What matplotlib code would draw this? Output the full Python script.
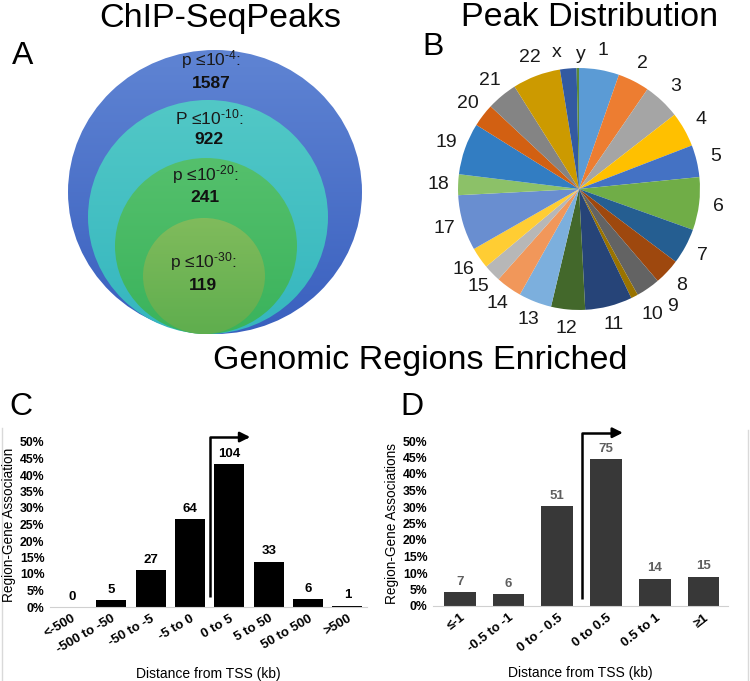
import matplotlib
matplotlib.use('Agg')
import matplotlib.pyplot as plt
import numpy as np
from matplotlib.colors import LinearSegmentedColormap
from matplotlib.patches import Ellipse

plt.rcParams['font.family'] = ['Liberation Sans', 'DejaVu Sans']
plt.rcParams['mathtext.fontset'] = 'custom'
plt.rcParams['mathtext.rm'] = 'Liberation Sans'
plt.rcParams['mathtext.it'] = 'Liberation Sans'

# Panel A: nested peak sets
peak_thresholds = ['-4', '-10', '-20', '-30']
peak_prefix = ['p', 'P', 'p', 'p']
peak_counts = [1587, 922, 241, 119]

# Panel B: peaks per chromosome
chromosomes = ['1', '2', '3', '4', '5', '6', '7', '8', '9', '10', '11', '12',
               '13', '14', '15', '16', '17', '18', '19', '20', '21', '22', 'x', 'y']
chrom_peaks = [85, 67, 78, 74, 68, 112, 76, 55, 51, 15, 100, 72,
               70, 55, 37, 45, 118, 44, 110, 49, 65, 102, 35, 5]

# Panel C: distance from TSS (kb)
c_bins = ['<-500', '-500 to -50', '-50 to -5', '-5 to 0', '0 to 5', '5 to 50', '50 to 500', '>500']
c_counts = [0, 5, 27, 64, 104, 33, 6, 1]

# Panel D: distance from TSS (kb), finer
d_bins = ['≤-1', '-0.5 to -1', '0 to - 0.5', '0 to 0.5', '0.5 to 1', '≥1']
d_counts = [7, 6, 51, 75, 14, 15]

W, H = 750, 681
fig = plt.figure(figsize=(W / 100, H / 100), dpi=100)


def px_axes(x0, y0, x1, y1):
    return fig.add_axes([x0 / W, 1 - y1 / H, (x1 - x0) / W, (y1 - y0) / H])


# overlay in pixel coordinates for panel A and decorations
ov = fig.add_axes([0, 0, 1, 1])
ov.axis('off')

# circles: (center x, rx, ry, top colour, bottom colour), all touch at the bottom
bottom_y = 334
circles = [(215, 147, 142, '#5f84d3', '#3a60bf'),
           (208, 120, 117, '#52c8c6', '#35b6bf'),
           (206, 91, 88, '#55c06c', '#3ab35c'),
           (204, 61, 58, '#80bb5c', '#5fae4e')]
grad = np.linspace(0, 1, 100).reshape(-1, 1)
for cx, rx, ry, c_top, c_bot in circles:
    cy = bottom_y - ry
    ell = Ellipse((cx, cy), 2 * rx, 2 * ry, facecolor='none', edgecolor='none')
    ov.add_patch(ell)
    cmap = LinearSegmentedColormap.from_list('g', [c_top, c_bot])
    im = ov.imshow(grad, cmap=cmap, extent=(cx - rx, cx + rx, cy + ry, cy - ry),
                   aspect='auto', zorder=1)
    im.set_clip_path(ell)
ov.set_xlim(0, W)
ov.set_ylim(H, 0)

label_y = [60, 117, 175, 262]
label_x = [211, 209, 205, 203]
for lx, ly, pre, thr, cnt in zip(label_x, label_y, peak_prefix, peak_thresholds, peak_counts):
    ov.text(lx, ly, pre + r' ≤10$^{\text{' + thr + '}}$:', ha='center', va='center',
            fontsize=12.5, color='#1a1a1a', zorder=3)
    ov.text(lx, ly + 23, str(cnt), ha='center', va='center', fontsize=12.5,
            fontweight='bold', color='#111111', zorder=3)

# titles and panel letters
fig.text(220 / W, 1 - 27 / H, 'ChIP-SeqPeaks', ha='center', va='baseline', fontsize=24.5)
fig.text(590 / W, 1 - 26 / H, 'Peak Distribution', ha='center', va='baseline', fontsize=24.5)
fig.text(420 / W, 1 - 369 / H, 'Genomic Regions Enriched', ha='center', va='baseline', fontsize=24.5)
for letter, x, y in [('A', 23, 56), ('B', 433, 47), ('C', 21, 407), ('D', 412, 407)]:
    fig.text(x / W, 1 - y / H, letter, ha='center', va='center', fontsize=23)

# light frame lines around the lower panels
ov.plot([2, 2], [428, 681], color='#d9d9d9', lw=1)
ov.plot([748, 748], [430, 681], color='#d9d9d9', lw=1)

# Panel B pie
pie_colors = ['#5B9BD5', '#ED7D31', '#A5A5A5', '#FFC000', '#4472C4', '#70AD47',
              '#255E91', '#9E480E', '#636363', '#997300', '#264478', '#43682B',
              '#7CAFDD', '#F1975A', '#B7B7B7', '#FFCD33', '#698ED0', '#8CC168',
              '#327DC2', '#D26012', '#848484', '#CC9A00', '#335AA1', '#5A8A39']
axb = px_axes(429, 39, 729, 339)
wedges, texts = axb.pie(chrom_peaks, labels=chromosomes, colors=pie_colors, startangle=90,
                        counterclock=False, labeldistance=1.16, radius=1,
                        wedgeprops=dict(linewidth=0),
                        textprops=dict(fontsize=14, color='#1a1a1a'))
# crowded labels: (clockwise angle from top in degrees, distance)
label_spots = {'9': (141.5, 1.24), '10': (149.5, 1.2), 'x': (350.5, 1.14), 'y': (1.0, 1.11)}
for w, t in zip(wedges, texts):
    t.set_horizontalalignment('center')
    if t.get_text() in label_spots:
        cw, r = label_spots[t.get_text()]
        a = np.deg2rad(90 - cw)
        t.set_position((r * np.cos(a), r * np.sin(a)))
axb.set_xlim(-1.24, 1.24)
axb.set_ylim(-1.24, 1.24)
axb.set_aspect('equal')


def bar_panel(ax, bins, counts, color, label_color, ylabel, rot, xlim, arrow):
    counts = np.array(counts, dtype=float)
    pct = counts / counts.sum() * 100
    x = np.arange(len(bins))
    bars = ax.bar(x, pct, width=0.76 if len(bins) > 6 else 0.65, color=color)
    ax.bar_label(bars, labels=[str(int(c)) for c in counts], padding=3,
                 fontsize=9.5, fontweight='bold', color=label_color)
    ax.set_ylim(0, 50)
    ax.set_xlim(*xlim)
    ax.set_yticks(np.arange(0, 51, 5))
    ax.set_yticklabels([f'{v}%' for v in range(0, 51, 5)], fontsize=8.8, fontweight='bold')
    ax.set_xticks(x)
    ax.set_xticklabels(bins, rotation=rot, ha='right', rotation_mode='anchor',
                       fontsize=9.5, fontweight='bold')
    ax.tick_params(length=0, pad=4)
    for s in ['top', 'right', 'left']:
        ax.spines[s].set_visible(False)
    ax.spines['bottom'].set_color('#d0d0d0')
    ax.set_ylabel(ylabel, fontsize=9.8, labelpad=3)
    ax.set_xlabel('Distance from TSS (kb)', fontsize=10, labelpad=8)
    xa, y0, y1, xb = arrow
    ax.plot([xa, xa, xb - 0.15], [y0, y1, y1], color='black', lw=1.8, clip_on=False,
            solid_capstyle='butt')
    ax.annotate('', xy=(xb, y1), xytext=(xb - 0.3, y1),
                arrowprops=dict(arrowstyle='-|>', color='black', lw=1.8,
                                mutation_scale=15), annotation_clip=False)


axc = px_axes(50, 442, 367, 607)
bar_panel(axc, c_bins, c_counts, 'black', 'black', 'Region-Gene Association', 30,
          (-0.56, 7.5), (3.5, 3, 51.5, 4.6))

axd = px_axes(433, 441, 728, 606)
bar_panel(axd, d_bins, d_counts, '#383838', '#5f5f5f', 'Region-Gene Associations', 38,
          (-0.55, 5.5), (2.5, 2, 52.5, 3.4))

fig.savefig('out.png', dpi=100)
